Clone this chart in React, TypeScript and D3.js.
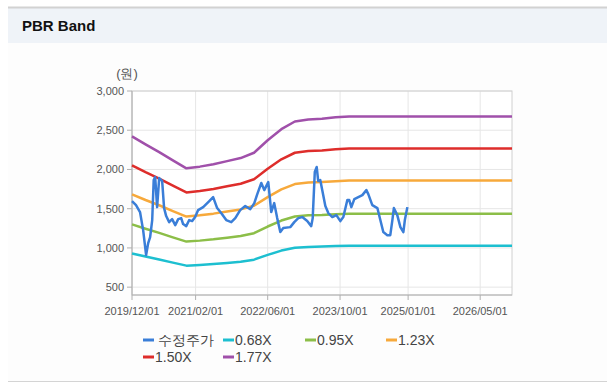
import React from "react";
import * as d3 from "d3";

const priceDates = [
  "2019-12-01","2019-12-28","2020-01-24","2020-02-14","2020-03-05","2020-03-19","2020-04-01","2020-04-15","2020-04-25","2020-05-05",
  "2020-05-18","2020-06-01","2020-06-21","2020-07-04","2020-07-18","2020-08-07","2020-08-27","2020-09-17","2020-10-07","2020-10-27",
  "2020-11-09","2020-11-30","2020-12-20","2021-01-09","2021-01-29","2021-02-18","2021-03-24","2021-05-04","2021-05-30","2021-06-26",
  "2021-07-23","2021-08-26","2021-09-29","2021-10-26","2021-11-28","2022-01-01","2022-02-04","2022-03-03","2022-03-23","2022-04-19",
  "2022-05-09","2022-06-05","2022-06-25","2022-07-15","2022-08-04","2022-08-25","2022-09-14","2022-10-31","2022-11-27","2022-12-24",
  "2023-01-20","2023-02-22","2023-03-21","2023-03-31","2023-04-14","2023-04-27","2023-05-07","2023-05-21","2023-06-03","2023-06-24",
  "2023-07-14","2023-08-10","2023-09-06","2023-10-03","2023-10-23","2023-11-19","2023-12-02","2023-12-16","2024-01-05","2024-02-01",
  "2024-02-28","2024-03-26","2024-04-08","2024-05-05","2024-06-08","2024-06-28","2024-07-18","2024-08-14","2024-09-03","2024-09-17",
  "2024-09-27","2024-10-20","2024-11-10","2024-11-30","2024-12-10","2024-12-27"
];
const priceValues = [
  1597,1546,1457,1227,908,1061,1138,1355,1865,1903,
  1520,1890,1852,1508,1406,1329,1367,1291,1367,1380,
  1304,1278,1355,1342,1393,1482,1520,1597,1648,1508,
  1444,1355,1329,1380,1482,1533,1495,1571,1686,1827,
  1737,1839,1457,1571,1380,1202,1253,1265,1329,1380,
  1393,1342,1278,1380,1967,2031,1852,1865,1737,1533,
  1444,1393,1418,1342,1393,1610,1610,1520,1622,1648,
  1673,1737,1686,1546,1508,1355,1202,1163,1163,1355,
  1508,1418,1265,1202,1355,1520
];

const bandDates = [
  "2019-12-01","2020-03-01","2020-06-01","2020-09-01","2020-12-01","2021-03-01","2021-06-01","2021-09-01","2021-12-01",
  "2022-03-01","2022-06-01","2022-09-01","2022-12-01","2023-03-01","2023-06-01","2023-09-01","2023-12-01","2026-12-01"
];
const band068 = [930,891,853,813,774,782,794,809,824,850,911,966,1003,1013,1017,1023,1027,1027];
const band095 = [1300,1245,1192,1135,1081,1093,1110,1131,1151,1188,1273,1349,1401,1416,1420,1430,1435,1435];
const band123 = [1683,1611,1544,1470,1400,1415,1437,1464,1491,1538,1648,1747,1814,1833,1839,1851,1859,1859];
const band150 = [2052,1965,1883,1793,1707,1725,1752,1785,1818,1875,2010,2130,2213,2235,2243,2258,2267,2267];
const band177 = [2421,2319,2221,2115,2014,2036,2067,2106,2145,2213,2372,2513,2611,2637,2646,2664,2674,2674];

const seriesNames = ["수정주가", "0.68X", "0.95X", "1.23X", "1.50X", "1.77X"];
const seriesColors = ["#3a7ed8", "#1dbfd0", "#8cbe48", "#f7a93b", "#de2d2b", "#a050aa"];

const xTickLabels = ["2019/12/01", "2021/02/01", "2022/06/01", "2023/10/01", "2025/01/01", "2026/05/01"];
const yTicks = [500, 1000, 1500, 2000, 2500, 3000];

const parse = d3.timeParse("%Y-%m-%d");
const parseTick = d3.timeParse("%Y/%m/%d");

export default function App() {
  const W = 614, H = 392;
  const left = 132, right = 512, top = 91, bottom = 295;
  const x = d3.scaleTime()
    .domain([parse("2019-12-01")!, parse("2026-12-01")!])
    .range([left, right]);
  const y = d3.scaleLinear().domain([400, 3000]).range([bottom, top]);

  const line = d3.line<[Date, number]>()
    .x(d => x(d[0]))
    .y(d => y(d[1]));

  const priceData: [Date, number][] = priceDates.map((d, i) => [parse(d)!, priceValues[i]]);
  const bands = [band068, band095, band123, band150, band177];
  const bandData = bands.map(b => bandDates.map((d, i) => [parse(d)!, b[i]] as [Date, number]));

  const xTicks = xTickLabels.map(t => parseTick(t)!);

  const font = "'Liberation Sans', Arial, sans-serif";

  const legendItems = [
    { x: 143, y: 340 }, { x: 223, y: 340 }, { x: 305, y: 340 }, { x: 386, y: 340 },
    { x: 143, y: 357 }, { x: 223, y: 357 },
  ];

  return (
    <svg width={W} height={H} style={{ position: "absolute", left: 0, top: 0 }} fontFamily={font}>
      <rect x={0} y={0} width={W} height={H} fill="#ffffff" />
      <rect x={8} y={8} width={599} height={374} fill="#fdfdfd" />
      <rect x={8} y={8} width={599} height={35} fill="#eff3f8" />
      <line x1={8} x2={607} y1={7.5} y2={7.5} stroke="#d2d2d2" strokeWidth={2} />
      <line x1={8} x2={607} y1={381.5} y2={381.5} stroke="#d4d4d4" strokeWidth={1} />
      <text x={22} y={31} fontSize={15} fontWeight={700} fill="#111">PBR Band</text>

      {/* plot background */}
      <rect x={left} y={top} width={right - left} height={bottom - top} fill="#ffffff" />
      {/* grid */}
      {yTicks.map(t => (
        <line key={"gy" + t} x1={left} x2={right} y1={y(t)} y2={y(t)} stroke="#e6e6e6" strokeWidth={1} />
      ))}
      {xTicks.map((t, i) => (
        <line key={"gx" + i} x1={x(t)} x2={x(t)} y1={top} y2={bottom} stroke="#e6e6e6" strokeWidth={1} />
      ))}
      <rect x={left} y={top} width={right - left} height={bottom - top} fill="none" stroke="#d0d0d0" strokeWidth={1} />
      {/* axes */}
      <line x1={left} x2={left} y1={top} y2={bottom} stroke="#b0b0b0" strokeWidth={1} />
      <line x1={left} x2={right} y1={bottom} y2={bottom} stroke="#b0b0b0" strokeWidth={1} />
      {yTicks.map(t => (
        <g key={"ty" + t}>
          <line x1={left - 5} x2={left} y1={y(t)} y2={y(t)} stroke="#b0b0b0" />
          <text x={124} y={y(t) + 4} fontSize={11} fill="#555" textAnchor="end">{d3.format(",")(t)}</text>
        </g>
      ))}
      {xTicks.map((t, i) => (
        <g key={"tx" + i}>
          <line x1={x(t)} x2={x(t)} y1={bottom} y2={bottom + 5} stroke="#b0b0b0" />
          <text x={x(t)} y={315} fontSize={11} fill="#555" textAnchor="middle">{xTickLabels[i]}</text>
        </g>
      ))}
      <text x={127} y={78} fontSize={13} fill="#555" textAnchor="middle">(원)</text>

      {/* bands */}
      {bandData.map((bd, i) => (
        <path key={"b" + i} d={line(bd) || ""} fill="none" stroke={seriesColors[i + 1]} strokeWidth={2.5} strokeLinejoin="round" />
      ))}
      <path d={line(priceData) || ""} fill="none" stroke={seriesColors[0]} strokeWidth={2.5} strokeLinejoin="round" />

      {/* legend */}
      {seriesNames.map((n, i) => (
        <g key={"l" + i}>
          <line x1={legendItems[i].x} x2={legendItems[i].x + 11} y1={legendItems[i].y} y2={legendItems[i].y} stroke={seriesColors[i]} strokeWidth={3} />
          <text x={legendItems[i].x + (i === 0 ? 15 : 12)} y={legendItems[i].y + 5} fontSize={14} fill="#444">{n}</text>
        </g>
      ))}
    </svg>
  );
}
